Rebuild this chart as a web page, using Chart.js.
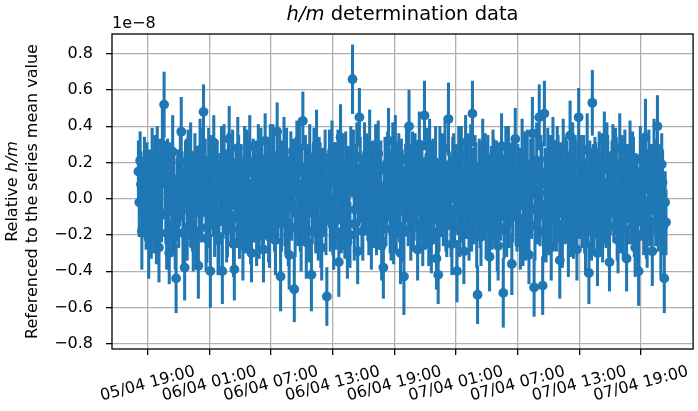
<!DOCTYPE html>
<html>
<head>
<meta charset="utf-8">
<script src="https://cdn.jsdelivr.net/npm/chart.js@4.4.1/dist/chart.umd.min.js"></script>
<style>
  html, body { margin: 0; padding: 0; background: #fff; }
  #wrap { position: relative; width: 698px; height: 411px; }
</style>
</head>
<body>
<div id="wrap"><canvas id="hmChart"></canvas></div>
<script>
// time axis: hours counted from 05/04 00:00, one run every 5 minutes
const startHour = 18.1;
const stepHour = 1 / 12;

// relative h/m, in units of 1e-8
const hmValues = [
    0.15, -0.02, 0.21, 0.08, -0.18, -0.06, 0.04, 0.14, -0.05, -0.12, 0.12, 0.01, -0.22, 0.10, 0.08, -0.15, 0.19, 0.05, -0.11, 0.18,
    0.02, -0.20, 0.23, -0.04, -0.27, 0.16, 0.10, -0.09, 0.30, 0.22, 0.52, 0.11, -0.08, -0.19, 0.17, 0.03, -0.30, 0.12, 0.06, -0.14,
    0.26, 0.07, -0.14, -0.21, -0.44, 0.02, 0.11, -0.10, 0.03, 0.20, 0.37, 0.09, -0.19, -0.03, -0.38, 0.15, 0.14, -0.16, 0.22, 0.06,
    -0.07, 0.24, 0.05, -0.12, -0.25, 0.04, 0.18, -0.18, 0.09, 0.13, -0.37, 0.01, 0.27, -0.08, -0.02, 0.21, 0.48, 0.10, 0.13, -0.22,
    -0.16, 0.05, 0.21, -0.11, -0.40, 0.17, 0.07, -0.02, 0.31, -0.14, -0.09, 0.12, 0.15, -0.23, -0.21, 0.09, 0.02, 0.19, -0.40, -0.06,
    0.24, 0.03, 0.11, -0.17, -0.13, 0.21, 0.33, -0.01, -0.04, 0.14, 0.19, -0.25, -0.39, 0.06, 0.08, -0.09, 0.28, 0.16, -0.17, 0.00,
    0.12, -0.07, -0.26, 0.04, 0.20, -0.13, 0.01, 0.22, -0.10, 0.08, 0.29, -0.18, -0.30, 0.02, 0.16, -0.05, 0.06, 0.17, -0.20, 0.11,
    0.25, -0.15, -0.06, 0.20, 0.13, -0.10, -0.28, 0.07, 0.32, -0.02, 0.04, 0.15, -0.15, -0.21, 0.22, 0.09, -0.03, 0.24, 0.18, -0.11,
    -0.23, 0.06, 0.37, -0.04, 0.09, 0.18, -0.43, -0.14, 0.14, 0.01, 0.26, -0.09, -0.12, 0.19, 0.03, -0.20, -0.31, 0.10, 0.21, -0.03,
    0.07, 0.14, -0.50, -0.16, 0.17, 0.23, -0.08, 0.05, 0.28, -0.12, -0.19, 0.08, 0.43, -0.06, 0.00, 0.17, -0.24, 0.02, 0.12, -0.18,
    0.23, 0.09, -0.42, -0.08, 0.10, 0.21, -0.05, -0.13, 0.30, 0.04, -0.17, 0.16, 0.15, -0.19, -0.27, 0.11, 0.05, -0.02, 0.20, -0.12,
    -0.54, 0.07, 0.08, 0.19, -0.11, -0.05, 0.26, -0.15, -0.21, 0.12, 0.14, -0.07, 0.02, 0.22, -0.35, 0.03, 0.34, -0.10, 0.11, 0.15,
    -0.09, -0.16, 0.19, 0.05, -0.24, 0.12, 0.06, -0.20, 0.24, 0.18, 0.66, 0.20, -0.14, -0.06, 0.13, 0.23, -0.29, 0.02, 0.45, 0.14,
    0.04, -0.11, -0.18, 0.08, 0.22, -0.03, 0.09, 0.17, -0.07, -0.14, 0.29, 0.06, -0.22, 0.10, 0.16, -0.09, 0.01, 0.21, -0.13, 0.04,
    0.25, -0.05, 0.07, 0.16, -0.26, -0.12, -0.38, 0.01, 0.18, -0.08, 0.03, 0.20, 0.32, 0.07, -0.10, -0.17, 0.12, 0.24, -0.20, 0.03,
    0.27, -0.13, -0.04, 0.11, 0.20, -0.06, -0.30, 0.14, 0.09, -0.19, -0.43, 0.00, 0.15, 0.22, 0.05, -0.10, 0.40, 0.13, -0.16, 0.06,
    0.21, -0.10, -0.06, 0.18, 0.11, -0.02, -0.28, 0.09, 0.30, -0.15, 0.02, 0.12, -0.19, 0.05, 0.46, -0.07, 0.08, 0.21, -0.11, -0.18,
    0.24, 0.06, -0.23, 0.15, 0.14, -0.09, 0.04, 0.20, -0.33, 0.02, -0.42, -0.11, 0.19, -0.04, 0.10, 0.17, -0.08, 0.08, 0.28, -0.14,
    -0.15, 0.03, 0.44, 0.10, 0.06, -0.13, -0.25, 0.19, 0.17, -0.06, 0.01, 0.14, -0.40, -0.01, 0.22, -0.16, -0.03, 0.23, 0.13, -0.08,
    -0.29, 0.11, 0.31, -0.03, 0.07, 0.16, -0.18, 0.05, 0.20, -0.12, 0.47, 0.09, -0.09, 0.18, 0.11, -0.20, -0.53, 0.01, 0.16, -0.07,
    -0.21, 0.12, 0.26, -0.05, 0.04, 0.20, -0.12, 0.07, 0.18, -0.14, -0.32, 0.03, 0.09, -0.10, 0.23, 0.16, -0.06, 0.08, 0.14, -0.19,
    -0.26, 0.13, 0.02, -0.02, 0.29, 0.05, -0.52, -0.17, 0.10, 0.22, -0.15, 0.01, 0.21, -0.09, 0.05, 0.15, -0.36, -0.04, 0.17, 0.10,
    0.33, -0.08, -0.10, 0.14, 0.08, -0.03, -0.24, 0.11, 0.25, -0.16, 0.00, 0.19, -0.17, 0.06, 0.19, -0.12, -0.31, 0.02, 0.12, -0.05,
    0.36, 0.17, -0.49, -0.15, 0.06, 0.21, -0.07, 0.04, 0.45, -0.09, 0.15, 0.12, -0.48, -0.18, 0.47, 0.08, -0.20, 0.03, 0.22, -0.13,
    0.03, 0.16, -0.27, 0.05, 0.30, -0.11, 0.10, -0.02, -0.13, 0.20, 0.18, -0.08, -0.34, 0.13, 0.07, -0.19, 0.26, 0.04, -0.05, 0.17,
    0.14, -0.06, -0.22, 0.09, 0.35, -0.14, 0.01, 0.22, -0.16, 0.07, 0.20, -0.10, -0.28, 0.11, 0.45, -0.04, 0.09, 0.18, -0.11, 0.02,
    0.16, -0.12, -0.25, 0.06, 0.27, -0.07, -0.41, 0.14, 0.05, -0.18, 0.53, 0.10, -0.14, 0.19, 0.12, -0.05, -0.30, 0.08, 0.21, -0.13,
    0.02, 0.16, -0.19, 0.03, 0.31, -0.10, -0.08, 0.21, 0.17, -0.15, -0.35, -0.01, 0.08, 0.12, 0.24, -0.08, -0.02, 0.20, 0.13, -0.17,
    -0.23, 0.04, 0.28, -0.09, 0.06, 0.17, -0.16, 0.02, 0.19, -0.11, -0.33, 0.13, 0.11, -0.06, 0.25, 0.09, -0.09, 0.20, 0.15, -0.14,
    -0.27, 0.07, 0.04, -0.20, -0.40, 0.01, 0.22, -0.03, 0.10, 0.16, -0.12, 0.05, 0.34, -0.16, -0.20, 0.11, 0.18, -0.07, 0.07, 0.14,
    -0.29, 0.08, 0.26, -0.04, -0.06, 0.15, 0.40, -0.10, 0.14, 0.03, -0.22, 0.19, 0.09, -0.15, -0.44, -0.02, -0.13
];

// one-sigma uncertainties, same units
const hmErrors = [
    0.17, 0.19, 0.16, 0.18, 0.21, 0.15, 0.18, 0.20, 0.17, 0.16, 0.19, 0.18, 0.22, 0.17, 0.16, 0.18, 0.20, 0.15, 0.19, 0.17,
    0.18, 0.16, 0.17, 0.20, 0.19, 0.17, 0.18, 0.15, 0.21, 0.16, 0.18, 0.19, 0.17, 0.20, 0.16, 0.18, 0.17, 0.19, 0.15, 0.18,
    0.20, 0.17, 0.16, 0.18, 0.19, 0.21, 0.16, 0.17, 0.18, 0.15, 0.19, 0.17, 0.20, 0.16, 0.18, 0.17, 0.19, 0.18, 0.16, 0.20,
    0.16, 0.18, 0.19, 0.17, 0.15, 0.20, 0.18, 0.17, 0.19, 0.16, 0.18, 0.21, 0.17, 0.16, 0.19, 0.18, 0.15, 0.17, 0.20, 0.18,
    0.19, 0.17, 0.18, 0.16, 0.20, 0.18, 0.17, 0.19, 0.15, 0.18, 0.16, 0.20, 0.17, 0.19, 0.18, 0.16, 0.17, 0.21, 0.18, 0.16,
    0.17, 0.20, 0.16, 0.18, 0.19, 0.15, 0.18, 0.17, 0.20, 0.16, 0.19, 0.18, 0.17, 0.16, 0.21, 0.18, 0.17, 0.19, 0.16, 0.18,
    0.18, 0.16, 0.19, 0.17, 0.20, 0.17, 0.18, 0.16, 0.19, 0.21, 0.17, 0.18, 0.16, 0.20, 0.17, 0.19, 0.18, 0.15, 0.17, 0.19,
    0.16, 0.18, 0.17, 0.19, 0.20, 0.16, 0.18, 0.17, 0.15, 0.19, 0.18, 0.16, 0.20, 0.17, 0.19, 0.18, 0.16, 0.17, 0.21, 0.18,
    0.19, 0.17, 0.16, 0.18, 0.20, 0.17, 0.19, 0.15, 0.18, 0.16, 0.19, 0.17, 0.18, 0.20, 0.16, 0.17, 0.19, 0.18, 0.16, 0.20,
    0.17, 0.19, 0.18, 0.16, 0.17, 0.20, 0.18, 0.19, 0.16, 0.17, 0.21, 0.18, 0.16, 0.19, 0.17, 0.18, 0.20, 0.16, 0.18, 0.17,
    0.18, 0.16, 0.20, 0.17, 0.19, 0.18, 0.16, 0.17, 0.19, 0.20, 0.17, 0.18, 0.16, 0.19, 0.18, 0.17, 0.20, 0.16, 0.18, 0.19,
    0.16, 0.18, 0.17, 0.19, 0.18, 0.20, 0.17, 0.16, 0.18, 0.19, 0.17, 0.21, 0.18, 0.16, 0.19, 0.17, 0.18, 0.20, 0.16, 0.18,
    0.19, 0.17, 0.18, 0.16, 0.20, 0.17, 0.19, 0.18, 0.16, 0.17, 0.19, 0.18, 0.20, 0.16, 0.17, 0.19, 0.18, 0.17, 0.16, 0.20,
    0.17, 0.19, 0.16, 0.18, 0.20, 0.17, 0.18, 0.19, 0.16, 0.17, 0.20, 0.18, 0.17, 0.19, 0.16, 0.18, 0.17, 0.20, 0.18, 0.16,
    0.18, 0.20, 0.17, 0.16, 0.19, 0.18, 0.17, 0.20, 0.16, 0.18, 0.19, 0.17, 0.18, 0.16, 0.20, 0.17, 0.19, 0.18, 0.16, 0.17,
    0.19, 0.17, 0.18, 0.20, 0.16, 0.18, 0.17, 0.19, 0.18, 0.16, 0.21, 0.17, 0.15, 0.19, 0.18, 0.16, 0.20, 0.17, 0.18, 0.19,
    0.16, 0.19, 0.17, 0.18, 0.21, 0.16, 0.17, 0.19, 0.18, 0.15, 0.20, 0.17, 0.18, 0.16, 0.19, 0.21, 0.17, 0.18, 0.16, 0.19,
    0.20, 0.16, 0.18, 0.17, 0.19, 0.15, 0.18, 0.20, 0.17, 0.19, 0.16, 0.18, 0.21, 0.17, 0.16, 0.19, 0.18, 0.20, 0.17, 0.15,
    0.17, 0.18, 0.20, 0.16, 0.18, 0.19, 0.17, 0.15, 0.19, 0.18, 0.20, 0.16, 0.17, 0.19, 0.18, 0.16, 0.21, 0.17, 0.19, 0.18,
    0.18, 0.17, 0.15, 0.19, 0.17, 0.20, 0.16, 0.18, 0.21, 0.17, 0.18, 0.19, 0.16, 0.17, 0.20, 0.18, 0.16, 0.19, 0.17, 0.20,
    0.16, 0.20, 0.18, 0.17, 0.19, 0.16, 0.21, 0.18, 0.17, 0.16, 0.19, 0.17, 0.20, 0.18, 0.15, 0.17, 0.19, 0.16, 0.18, 0.21,
    0.19, 0.16, 0.17, 0.21, 0.18, 0.17, 0.19, 0.16, 0.20, 0.18, 0.17, 0.15, 0.19, 0.18, 0.21, 0.16, 0.17, 0.20, 0.18, 0.16,
    0.17, 0.18, 0.19, 0.16, 0.20, 0.18, 0.15, 0.17, 0.19, 0.21, 0.16, 0.18, 0.17, 0.20, 0.19, 0.17, 0.16, 0.18, 0.21, 0.17,
    0.20, 0.17, 0.16, 0.19, 0.17, 0.21, 0.18, 0.16, 0.18, 0.17, 0.20, 0.19, 0.16, 0.17, 0.18, 0.20, 0.15, 0.19, 0.17, 0.18,
    0.16, 0.19, 0.18, 0.20, 0.15, 0.17, 0.19, 0.18, 0.16, 0.20, 0.17, 0.16, 0.21, 0.18, 0.17, 0.19, 0.18, 0.16, 0.20, 0.17,
    0.18, 0.16, 0.21, 0.17, 0.19, 0.18, 0.16, 0.20, 0.17, 0.19, 0.15, 0.18, 0.17, 0.21, 0.16, 0.18, 0.19, 0.17, 0.16, 0.20,
    0.19, 0.18, 0.17, 0.16, 0.20, 0.19, 0.17, 0.18, 0.21, 0.16, 0.18, 0.20, 0.17, 0.15, 0.19, 0.17, 0.18, 0.20, 0.16, 0.18,
    0.17, 0.20, 0.16, 0.18, 0.17, 0.15, 0.19, 0.21, 0.18, 0.17, 0.16, 0.19, 0.18, 0.20, 0.17, 0.16, 0.18, 0.19, 0.21, 0.17,
    0.18, 0.17, 0.19, 0.21, 0.16, 0.18, 0.17, 0.16, 0.19, 0.20, 0.18, 0.17, 0.15, 0.19, 0.18, 0.21, 0.16, 0.17, 0.19, 0.18,
    0.16, 0.18, 0.20, 0.17, 0.19, 0.16, 0.18, 0.20, 0.17, 0.18, 0.19, 0.16, 0.21, 0.17, 0.18, 0.16, 0.20, 0.19, 0.17, 0.16,
    0.19, 0.17, 0.18, 0.16, 0.20, 0.18, 0.17, 0.19, 0.16, 0.18, 0.21, 0.17, 0.18, 0.16, 0.19, 0.17, 0.18
];

const tickHours = [19, 25, 31, 37, 43, 49, 55, 61, 67];
const tickLabels = [
    "05/04 19:00", "06/04 01:00", "06/04 07:00", "06/04 13:00", "06/04 19:00",
    "07/04 01:00", "07/04 07:00", "07/04 13:00", "07/04 19:00"
];
const yTicks = [-0.8, -0.6, -0.4, -0.2, 0, 0.2, 0.4, 0.6, 0.8];

const hours = hmValues.map((_, i) => startHour + i * stepHour);
if (hmErrors.length !== hmValues.length) console.error("length mismatch", hmValues.length, hmErrors.length);

const BLUE = "#1f77b4";
const FONT = "'DejaVu Sans', sans-serif";

// draws a line of text made of normal / italic pieces, centred on (0, 0)
function drawMixed(ctx, parts, size) {
    let total = 0;
    parts.forEach(p => {
        ctx.font = (p[1] ? "italic " : "") + size + "px " + FONT;
        total += ctx.measureText(p[0]).width;
    });
    let x = -total / 2;
    parts.forEach(p => {
        ctx.font = (p[1] ? "italic " : "") + size + "px " + FONT;
        ctx.fillText(p[0], x, 0);
        x += ctx.measureText(p[0]).width;
    });
}

const extras = {
    id: "extras",
    afterDatasetsDraw(chart) {
        const { ctx, chartArea: a } = chart;
        ctx.save();
        ctx.strokeStyle = "#000";
        ctx.lineWidth = 1.3;
        ctx.strokeRect(a.left, a.top, a.right - a.left, a.bottom - a.top);
        ctx.restore();
    },
    afterDraw(chart) {
        const { ctx, chartArea: a, scales } = chart;
        ctx.save();
        ctx.fillStyle = "#000";
        ctx.textAlign = "left";

        // x tick labels, rotated and centred under each tick
        ctx.font = "16px " + FONT;
        tickHours.forEach((h, i) => {
            const x = scales.x.getPixelForValue(h);
            ctx.save();
            ctx.translate(x, 384);
            ctx.rotate(-15 * Math.PI / 180);
            ctx.textAlign = "center";
            ctx.textBaseline = "middle";
            ctx.fillText(tickLabels[i], 0, 0);
            ctx.restore();
        });

        // title
        ctx.textBaseline = "alphabetic";
        ctx.save();
        ctx.translate((a.left + a.right) / 2, 20);
        drawMixed(ctx, [["h/m", true], [" determination data", false]], 19.5);
        ctx.restore();

        // offset text
        ctx.font = "16px " + FONT;
        ctx.fillText("1e\u22128", a.left, 28);

        // y axis label, two lines
        const cy = (a.top + a.bottom) / 2;
        ctx.textBaseline = "middle";
        ctx.save();
        ctx.translate(13, cy);
        ctx.rotate(-Math.PI / 2);
        drawMixed(ctx, [["Relative ", false], ["h/m", true]], 16);
        ctx.restore();
        ctx.save();
        ctx.translate(33, cy);
        ctx.rotate(-Math.PI / 2);
        drawMixed(ctx, [["Referenced to the series mean value", false]], 16);
        ctx.restore();

        ctx.restore();
    }
};

const ctx = document.getElementById("hmChart").getContext("2d");

new Chart(ctx, {
    type: "scatter",
    data: {
        datasets: [
            {
                label: "h/m",
                data: hours.map((h, i) => ({ x: h, y: hmValues[i] })),
                backgroundColor: BLUE,
                borderWidth: 0,
                pointRadius: 4.9,
                pointHoverRadius: 4.9
            },
            {
                type: "bar",
                label: "error",
                data: hours.map((h, i) => ({ x: h, y: [hmValues[i] - hmErrors[i], hmValues[i] + hmErrors[i]] })),
                backgroundColor: BLUE,
                borderWidth: 0,
                barThickness: 2.4,
                grouped: false
            }
        ]
    },
    options: {
        responsive: true,
        maintainAspectRatio: false,
        animation: false,
        layout: { padding: { top: 34, right: 2, left: 0, bottom: 0 } },
        scales: {
            x: {
                type: "linear",
                min: 15.53,
                max: 72.07,
                offset: false,
                afterBuildTicks: s => { s.ticks = tickHours.map(v => ({ value: v })); },
                afterFit: s => { s.height = 62; },
                ticks: { display: false },
                grid: {
                    offset: false,
                    color: "#b0b0b0",
                    lineWidth: 1.3,
                    tickColor: "#000",
                    tickLength: 6,
                    tickWidth: 1.3
                },
                border: { display: false }
            },
            y: {
                type: "linear",
                min: -0.83,
                max: 0.91,
                afterBuildTicks: s => { s.ticks = yTicks.map(v => ({ value: v })); },
                afterFit: s => { s.width = 112; },
                ticks: {
                    autoSkip: false,
                    color: "#000",
                    padding: 13,
                    font: { family: FONT, size: 16 },
                    callback: v => v.toFixed(1).replace("-", "\u2212")
                },
                grid: {
                    color: "#b0b0b0",
                    lineWidth: 1.3,
                    tickColor: "#000",
                    tickLength: 6,
                    tickWidth: 1.3
                },
                border: { display: false }
            }
        },
        plugins: {
            legend: { display: false },
            title: { display: false },
            tooltip: { enabled: false }
        }
    },
    plugins: [extras]
});
</script>
</body>
</html>
